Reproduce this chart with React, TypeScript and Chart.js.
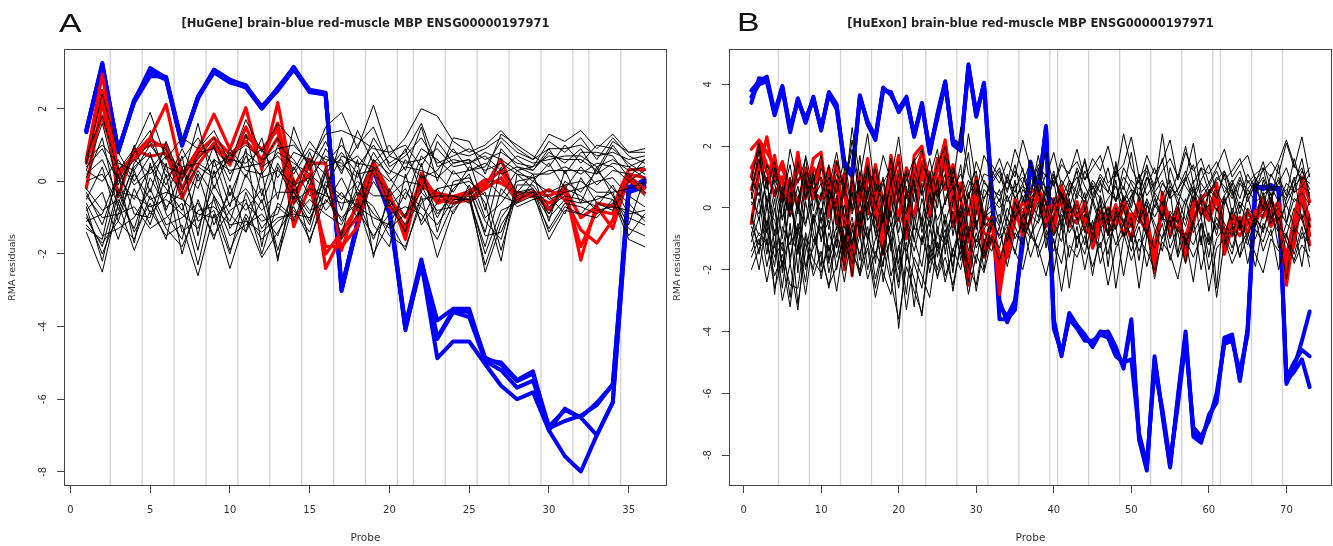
import React, { useEffect, useRef } from "react";
import { Chart, registerables } from "chart.js";

Chart.register(...registerables);

const FONT = "'DejaVu Sans', 'Liberation Sans', sans-serif";

// ---------------- Panel A (HuGene, 36 probes) ----------------
const titleA = "[HuGene] brain-blue red-muscle MBP ENSG00000197971";
const xTicksA = [0, 5, 10, 15, 20, 25, 30, 35];
const yTicksA = [-8, -6, -4, -2, 0, 2];
const exonBoundsA = [2.5, 4.5, 6.5, 8.5, 10.5, 12.5, 14.5, 16.5, 18.5, 20.5, 21.5, 23.5, 25.5, 27.5, 29.5, 31.5, 32.5, 34.5];

const blueA1 = [1.40, 3.26, 0.85, 2.20, 3.12, 2.85, 1.00, 2.30, 3.08, 2.80, 2.62, 2.05, 2.55, 3.15, 2.50, 2.42, -3.02, -1.20, 0.35, -0.80, -4.10, -2.20, -3.83, -3.51, -3.51, -4.92, -4.99, -5.47, -5.23, -6.86, -6.26, -6.51, -6.99, -6.09, -0.25, -0.05];
const blueA2 = [1.35, 3.20, 0.80, 2.25, 3.00, 2.80, 0.98, 2.35, 3.02, 2.75, 2.58, 2.00, 2.52, 3.10, 2.45, 2.40, -2.95, -1.15, 0.40, -0.70, -4.05, -2.30, -4.34, -3.60, -3.74, -4.95, -5.20, -5.68, -5.49, -6.80, -6.60, -6.45, -6.16, -5.59, -0.20, 0.05];
const blueA3 = [1.42, 3.22, 0.86, 2.18, 2.90, 2.88, 1.05, 2.28, 3.05, 2.78, 2.65, 2.02, 2.58, 3.12, 2.48, 2.38, -3.00, -1.10, 0.30, -0.90, -4.00, -2.25, -4.87, -4.41, -4.41, -5.03, -5.63, -6.00, -5.81, -6.86, -7.57, -7.99, -6.99, -6.09, -0.30, -0.15];
const blueA4 = [1.38, 3.18, 0.82, 2.22, 3.05, 2.82, 1.02, 2.32, 3.00, 2.72, 2.60, 2.06, 2.50, 3.08, 2.52, 2.44, -2.90, -1.25, 0.38, -0.75, -3.95, -2.15, -4.30, -3.55, -3.60, -4.85, -5.05, -5.50, -5.30, -6.75, -6.30, -6.50, -6.10, -5.60, -0.15, 0.00];

const redA1 = [0.60, 2.95, 0.23, 0.74, 1.20, 2.12, 0.18, 0.88, 1.85, 0.88, 2.03, 0.32, 2.17, -0.14, 0.60, -2.40, -1.50, -1.00, 0.55, -0.32, -1.60, 0.23, -0.50, -0.60, -0.50, -0.14, 0.60, -0.50, -0.28, -0.78, -0.14, -2.17, -0.60, -0.69, 0.32, 0.32];
const redA2 = [0.50, 2.50, -0.42, 0.88, 0.69, 0.78, -0.46, 0.46, 1.06, 0.60, 1.25, 0.88, 1.43, -1.25, -0.14, -1.80, -1.80, -1.25, 0.32, -0.69, -1.25, -0.14, -0.32, -0.42, -0.28, 0.05, -0.05, -0.32, -0.42, -0.23, -0.50, -1.34, -1.70, -1.06, 0.05, -0.32];
const redA3 = [-0.18, 2.17, 0.10, 0.80, 1.00, 1.00, -0.20, 0.70, 0.95, 0.45, 1.50, 0.50, 1.20, -0.60, 0.50, 0.50, -1.90, -0.50, 0.45, -0.40, -1.40, 0.10, -0.40, -0.50, -0.35, -0.05, 0.30, -0.45, -0.35, -0.60, -0.30, -1.80, -0.80, -0.90, 0.20, 0.10];
const redA4 = [0.55, 1.80, 0.30, 0.60, 1.15, 0.90, 0.10, 0.80, 1.20, 0.75, 1.10, 0.60, 1.60, -0.30, 0.20, -2.00, -1.40, -0.70, 0.40, -0.50, -1.00, 0.00, -0.60, -0.45, -0.55, -0.20, 0.10, -0.55, -0.30, -0.40, -0.20, -1.00, -0.70, -1.30, 0.15, -0.20];

const blackA1 = [-0.3, -1.2, 0.1, -0.5, 0.4, -0.2, -0.8, 0.3, -0.4, -1.1, 0.2, -0.6, 0.5, -0.3, -0.9, 0.4, 0.6, -0.2, 0.8, 0.1, -0.5, 0.7, 0.2, -0.3, 0.4, 0.1, -0.4, 0.3, 0.0, 0.5, -0.2, 0.4, -0.1, 0.3, 0.2, -0.3];
const blackA2 = [-1.4, -2.5, -0.6, -1.9, -0.8, -1.5, -1.2, -2.6, -0.9, -2.4, -1.0, -2.1, -1.4, -0.7, -1.6, -0.5, -1.0, -0.6, -2.0, -1.1, -1.9, -0.4, -2.1, -0.8, -0.3, -2.5, -1.2, -0.5, -0.3, -1.6, -0.8, -0.9, -1.0, -0.5, -1.6, -1.8];
const blackA3 = [0.7, 1.8, 0.3, 0.9, 1.9, 0.6, 1.2, 0.9, 1.4, 0.5, 1.7, 0.8, 1.6, 1.1, 0.4, 1.5, 1.9, 0.9, 2.1, 0.7, 1.2, 2.0, 1.8, 1.1, 0.8, 1.0, 1.4, 0.9, 0.6, 1.3, 1.1, 1.4, 0.9, 1.3, 0.8, 0.9];
const blackA4 = [-0.8, -0.3, -1.6, -0.2, -1.2, 0.2, -2.0, -0.5, -1.6, -0.1, -1.4, 0.3, -2.2, 0.1, -1.7, -0.2, -1.5, 0.3, -1.2, -1.8, 0.2, -1.2, -0.6, 0.3, -0.2, -1.4, 0.4, -0.3, 0.2, -1.1, 0.3, -0.6, 0.4, -0.4, -1.2, 0.1];
const blackA5 = [0.2, 0.6, -0.4, 1.0, -0.3, 1.1, 0.0, 1.6, -0.2, 0.8, 0.1, 1.2, -0.5, 1.5, 0.3, 1.1, 0.2, 1.4, 0.5, 1.0, 0.3, 1.5, 0.0, 1.2, 1.1, 0.2, 1.3, 1.0, 0.7, 0.4, 1.0, 0.5, 1.0, 0.9, 0.5, 0.2];
const blackA6 = [-1.0, -1.8, -0.2, -1.4, -0.6, -1.6, 0.4, -1.1, -0.8, -2.0, -0.3, -1.3, -0.7, -1.1, 0.1, -0.8, -0.3, -1.0, 0.4, -0.6, -1.4, 0.2, -0.9, -0.4, -0.5, -1.8, -0.2, -0.7, -0.5, -0.4, -0.9, 0.1, -0.6, -0.8, 0.0, -0.4];
const blackA7 = [-0.5, 0.4, -1.1, 0.3, -0.9, -0.4, 0.7, -1.5, 0.6, -0.7, 0.9, -1.8, 0.4, -0.5, 0.8, -0.3, 1.2, -0.4, 0.6, 0.2, 0.9, -0.3, 1.1, 0.5, 0.6, -0.8, 0.9, 0.4, 0.3, 0.8, 0.5, 0.9, 0.2, 1.0, 0.4, 0.6];
const blackA8 = [-1.1, -0.9, 0.2, -1.7, 0.5, -0.9, -1.6, 0.2, -1.2, -0.3, -0.8, -0.2, -1.9, -0.4, -1.2, 0.3, -0.8, 0.6, -2.1, -0.2, -1.0, 0.5, -1.4, 0.0, 0.1, -0.6, -2.2, 0.2, -0.2, -0.9, 0.0, -0.3, 0.3, -0.2, -0.6, -1.1];
const blackA9 = [0.1, 1.2, -0.8, 0.5, 1.1, 0.3, -0.3, 0.8, 0.9, 0.0, 1.3, -0.4, 1.0, 0.6, -0.1, 0.9, 0.3, 1.0, 1.5, 0.4, 0.7, 1.2, 0.5, 0.7, 0.9, 0.6, 0.8, 0.5, 0.4, 1.1, 0.8, 1.2, 0.6, 1.2, 0.7, 0.5];
const blackA10 = [-0.9, -2.0, -0.9, -0.7, -1.3, -1.0, -0.6, -2.3, -0.4, -1.5, -1.2, -0.9, -1.5, -0.2, -0.8, -0.6, 0.1, -0.8, -1.5, -0.9, -0.7, -0.9, -1.6, -0.6, -0.4, -2.0, -0.8, -0.6, -0.4, -1.3, -0.6, -0.7, -0.9, -0.6, -1.3, -1.5];
const blackA11 = [0.4, 0.9, 0.0, 0.6, 0.2, 0.7, 0.4, 0.5, 0.2, 0.6, 0.5, 0.9, 0.1, 0.8, 0.6, 0.2, 0.8, 0.2, 0.3, 0.7, 0.5, 0.6, 0.9, 0.4, 0.5, 0.7, 0.3, 0.7, 0.5, 0.6, 0.7, 0.7, 0.4, 0.6, 0.3, 0.4];
const blackA12 = [-0.6, -1.5, -1.3, -1.0, -0.2, -1.2, -1.0, -0.6, -1.5, -0.8, -0.5, -2.0, -0.6, -1.0, -0.5, -0.9, -1.2, -0.3, -0.7, -1.5, -1.8, -0.6, -0.2, -0.9, -0.1, -1.1, -1.6, -0.1, -0.1, -0.7, -0.4, -0.5, -0.7, -0.1, -0.9, -0.8];
const blackA13 = [0.5, 2.4, 0.8, 0.0, 0.7, -0.1, 0.9, 0.0, 0.6, 0.3, 0.4, 0.5, 1.2, 0.3, 1.1, 0.5, 1.0, 0.4, 1.0, 0.3, 0.1, 0.9, 0.6, 0.2, 0.3, 0.4, 1.1, 0.6, 0.3, 0.9, 0.2, 0.8, 0.8, 0.7, 0.1, 0.6];
const blackA14 = [-0.2, -0.8, -0.5, -1.3, 0.1, -0.7, -0.3, -1.9, 0.3, -1.3, -0.6, -1.1, -0.9, 0.4, -0.4, -0.1, -0.5, 0.0, -0.4, -0.4, 0.0, -0.1, -1.0, -0.2, 0.2, -1.0, -0.6, 0.0, 0.1, -0.5, -0.3, -0.2, 0.0, 0.1, -0.4, -0.7];
const blackA15 = [-1.3, -1.6, 0.4, -0.9, -1.0, 0.5, -1.4, -1.0, -0.5, -1.9, -0.9, -1.6, -1.1, -0.8, -1.4, 0.0, -0.4, -0.7, -1.0, -1.2, -0.3, -0.7, -1.2, -0.5, -0.5, -2.3, -1.0, -0.4, -0.2, -1.4, -0.7, -0.9, -0.4, -0.5, -1.0, -1.2];
const blackA16 = [0.3, 1.6, -0.1, 0.8, 1.4, 0.1, 0.6, 1.2, 0.4, 0.7, 1.0, 0.6, 0.9, 1.0, 0.5, 1.3, 1.4, 1.2, 0.9, 0.8, 1.0, 0.4, 1.3, 0.8, 0.7, 0.9, 1.2, 0.8, 0.6, 0.9, 0.9, 1.0, 0.7, 0.8, 0.6, 0.7];
const blackA17 = [-0.7, -2.2, -0.3, -0.4, -0.7, -0.5, -0.9, -1.3, -0.1, -0.9, -1.4, -0.5, -2.1, -0.6, -0.2, -0.4, -0.6, -0.5, -1.6, -0.5, -1.2, -0.5, -0.4, -0.4, -0.6, -0.3, -1.9, -0.3, -0.3, -1.0, -0.5, -0.6, -0.5, -0.3, -1.5, -0.9];
const blackA18 = [0.0, 0.2, -0.6, 0.4, 0.8, -0.8, 0.3, -0.2, 1.0, -0.4, 0.7, 0.1, 0.3, -0.1, 0.1, 0.7, 0.4, 0.7, 0.2, -0.3, 0.6, 0.1, 0.3, 0.9, 0.3, 0.5, 0.2, 0.4, 0.2, 0.2, 0.4, 0.2, 0.5, 0.4, 0.0, 0.3];
const blackA19 = [-0.4, -1.0, -0.9, 0.2, -0.5, -0.3, -0.5, -0.9, -1.0, -0.6, -0.2, -0.8, -0.3, -0.3, -1.1, 0.2, -1.6, -0.9, 0.0, -0.7, -0.2, -1.1, -0.2, -0.1, 0.0, -0.4, -0.4, -0.6, 0.0, -0.3, -0.1, 0.0, -0.3, -0.3, -0.2, 0.0];
const blackA20 = [0.6, 1.0, 0.5, 0.3, 1.0, 0.4, 0.2, 0.6, 1.2, 0.2, 0.8, 0.4, 0.7, 0.2, 0.9, 0.6, 0.5, 0.1, 1.2, 0.5, 0.8, 1.6, 0.4, 0.6, 0.5, 0.8, 0.6, 0.3, 0.4, 0.7, 0.6, 0.6, 0.3, 1.1, 0.8, 0.8];
const blackA21 = [-1.2, -1.7, -1.1, -1.6, -0.4, -1.3, -1.8, -0.8, -0.7, -1.2, -1.1, -1.4, -1.0, -0.9, -1.0, -0.3, -1.1, -0.2, -0.9, -1.3, -0.9, -0.3, -0.8, -0.7, -0.2, -1.5, -1.4, -0.3, -0.2, -0.9, -0.2, -0.4, -0.8, -0.7, -0.8, -1.0];
const blackA22 = [0.3, 0.0, 0.6, -0.1, 0.3, 0.9, -0.2, 0.4, 0.1, 0.9, 0.3, 0.2, 0.8, 0.5, 0.2, -0.2, 0.7, 0.5, 0.4, 0.0, 0.4, 0.3, 0.1, 0.5, 0.6, 0.3, 0.5, 0.2, 0.1, 0.3, 0.3, 0.3, 0.2, 0.5, 0.4, 0.1];

// ---------------- Panel B (HuExon, 73 probes) ----------------
const titleB = "[HuExon] brain-blue red-muscle MBP ENSG00000197971";
const xTicksB = [0, 10, 20, 30, 40, 50, 60, 70];
const yTicksB = [-8, -6, -4, -2, 0, 2, 4];
const exonBoundsB = [4.5, 8.5, 12.5, 16.5, 20.5, 23.5, 27.5, 31.5, 35.5, 39.5, 40.5, 44.5, 48.5, 52.5, 56.5, 60.5, 61.5, 65.5, 69.5];

const blueB1 = [3.4, 4.2, 4.15, 3.05, 3.95, 2.5, 3.5, 2.8, 3.55, 2.55, 3.7, 3.3, 1.35, 1.05, 3.6, 2.75, 2.2, 3.85, 3.7, 3.15, 3.55, 2.3, 3.35, 1.8, 3.0, 4.05, 2.1, 1.9, 4.65, 3.0, 4.0, 0.5, -3.0, -3.7, -3.1, -1.0, 1.45, 0.5, 2.6, -3.7, -4.75, -3.5, -3.85, -4.2, -4.4, -4.0, -4.05, -4.6, -5.1, -3.6, -7.4, -8.45, -4.9, -6.6, -8.35, -6.2, -4.1, -7.3, -7.55, -6.8, -6.2, -4.3, -4.2, -5.55, -3.95, 0.7, 0.65, 0.7, 0.6, -5.7, -5.15, -4.3, -3.35];
const blueB2 = [3.8, 4.1, 4.25, 3.1, 3.9, 2.6, 3.45, 2.9, 3.5, 2.6, 3.65, 3.2, 1.5, 1.1, 3.55, 2.8, 2.3, 3.8, 3.75, 3.1, 3.5, 2.4, 3.3, 1.9, 2.9, 4.0, 2.2, 2.0, 4.55, 3.1, 3.9, 0.4, -3.6, -3.6, -3.3, -0.8, 1.3, 0.6, 2.5, -3.9, -4.7, -3.6, -3.9, -4.3, -4.3, -4.1, -4.2, -4.8, -5.0, -4.9, -7.3, -8.3, -5.2, -6.5, -8.2, -6.4, -4.3, -7.1, -7.4, -6.9, -6.0, -4.4, -4.3, -5.3, -4.1, 0.6, 0.7, 0.6, 0.65, -5.6, -5.3, -4.9, -5.8];
const blueB3 = [3.6, 4.0, 4.1, 3.0, 3.85, 2.45, 3.55, 2.75, 3.6, 2.5, 3.75, 3.35, 1.4, 1.0, 3.65, 2.7, 2.25, 3.9, 3.65, 3.2, 3.6, 2.35, 3.4, 1.75, 3.05, 4.1, 2.05, 1.85, 4.6, 2.95, 4.05, 0.6, -3.2, -3.5, -3.0, -1.2, 1.5, 0.4, 2.65, -3.6, -4.8, -3.4, -3.8, -4.1, -4.5, -4.05, -4.0, -4.5, -5.2, -3.7, -7.5, -8.5, -4.8, -6.7, -8.4, -6.1, -4.0, -7.4, -7.6, -6.7, -6.3, -4.2, -4.1, -5.6, -3.9, 0.75, 0.6, 0.75, 0.55, -5.5, -5.0, -4.6, -4.8];

const redB1 = [1.9, 2.2, 1.8, 1.35, 0.8, 0.2, 1.8, 0.3, 1.6, 1.8, -0.3, 0.9, -2.0, 1.0, -0.9, 1.2, 0.4, -1.5, 0.6, 1.7, -0.8, 1.7, 2.0, 0.5, 1.2, 2.2, 0.4, -1.0, -2.5, 0.7, -1.35,
  -0.3, -2.8, -1.2, 0.3, -0.4, 0.5, 0.7, -0.3, -0.3, 0.7, 0.0, -0.3, 0.0, -1.1, -0.4, -0.2, -0.6, 0.0, -0.6, 0.0, -0.4, -2.1, 0.5, -0.6, 0.0, -1.7, 0.0, 0.3, 0.5, 0.8, -1.5, -0.6, -0.9, -0.5, -0.2, 0.3, -0.3, 0.0, -2.5, -0.8, 1.0, 0.2];
const redB2 = [-0.5, 1.2, 2.3, 0.9, 1.5, 0.6, 1.2, 0.9, 0.3, 1.4, 0.7, 0.5, 1.1, -1.7, 0.6, -0.2, 1.4, 0.2, 1.1, -0.4, 1.3, 0.6, 1.5, -0.3, 0.9, 1.4, -0.6, 0.8, -0.2, 1.0, -0.5,
  -0.6, -1.5, -1.6, -0.4, 0.2, -0.2, 0.4, -0.6, 0.3, 0.1, -0.6, 0.2, -0.7, -0.9, -0.1, -0.5, 0.1, -0.9, -0.2, -0.3, -0.8, -1.2, -0.1, -0.3, -0.7, -0.9, -0.2, 0.0, -0.4, 0.3, -1.0, -0.2, -0.6, -0.1, -0.5, 0.1, -0.6, -0.2, -1.9, -1.2, 0.4, -1.2];
const redB3 = [1.3, 1.8, 1.2, 0.4, 1.0, -0.2, 1.4, 0.6, 1.3, 0.9, 0.2, 1.5, -0.6, 0.4, 0.2, 1.6, -0.3, -0.8, 1.7, 0.3, -0.4, 1.0, 1.8, 0.9, 0.4, 1.7, 0.9, -0.4, -1.8, 0.1, -0.8,
  -1.0, -2.0, -0.8, -0.2, -0.6, 0.2, 0.3, -0.1, -0.5, 0.4, -0.3, -0.5, 0.2, -1.3, -0.6, 0.0, -0.4, 0.3, -0.5, 0.2, -0.6, -1.6, 0.2, -0.3, -0.4, -1.3, 0.3, -0.2, 0.0, 0.6, -1.2, -0.3, -0.7, -0.2, -0.4, 0.0, -0.1, 0.2, -2.2, -0.5, 0.6, -0.6];
const redB4 = [0.6, 1.5, 0.8, 1.7, 0.2, 0.9, 0.0, 1.3, 0.5, 0.3, 1.3, -0.5, 0.7, -2.2, 1.1, 0.5, 1.0, -1.3, 0.2, 1.2, 0.5, -0.3, 1.2, 0.2, 1.6, 0.6, 1.4, 0.3, -1.1, 0.9, -1.6,
  -0.9, -2.3, -1.4, 0.0, -0.9, -0.4, 0.6, 0.2, -0.8, 0.5, -0.4, 0.1, -0.5, -0.7, -0.3, -0.8, -0.3, -0.4, -1.0, 0.3, -0.2, -1.9, 0.4, -0.9, -0.2, -1.4, -0.5, 0.4, -0.3, 0.7, -0.8, -0.9, -0.3, -0.8, -0.1, -0.3, 0.3, -0.4, -1.6, -0.3, 0.8, -0.9];
const redB5 = [1.0, 2.1, 1.4, 1.1, 1.3, 0.5, 0.9, 1.1, 0.8, 1.5, 0.5, 0.2, -1.3, 0.8, -0.4, 0.9, 0.7, -0.6, 1.3, 0.8, -1.0, 1.3, 0.9, 1.1, 0.6, 1.9, 0.2, -0.7, -2.2, 0.5, -0.2,
  -0.5, -1.8, -1.0, 0.1, -0.2, 0.3, 0.5, -0.4, 0.0, 0.5, -0.1, -0.2, -0.3, -1.0, -0.2, -0.4, -0.1, 0.1, -0.4, -0.1, -0.5, -1.4, 0.0, -0.5, -0.3, -1.1, 0.1, 0.2, -0.1, 0.5, -1.3, -0.5, -0.5, -0.4, -0.3, 0.2, -0.2, -0.1, -2.0, -1.0, 0.5, -0.4];

const blackB1 = [-0.5, 0.8, -1.2, 0.3, -2.1, 0.5, -1.4, 0.9, -0.8, -1.9, 0.6, -0.3, -1.6, 1.2, -0.7, 0.4, -1.8, 0.2, -0.9, -2.4, 0.7, -1.1, 0.3, -0.6, 1.0, -1.5, 0.2, 1.4, -0.8, -0.2, 0.9,
  0.4, -0.5, 1.1, 0.3, 0.8, -0.2, 1.3, 0.1, 0.9, -0.7, 0.5, 1.2, -0.1, 0.7, 0.3, -0.9, 1.5, 0.2, 0.6, -0.4, 1.0, 0.4, -0.3, 1.3, 0.5, 0.1, 0.9, -1.2, 0.6, 0.3, 1.1, -0.2, 0.8, 0.4, -0.6, 0.9, 0.2, 1.4, -0.5, 0.7, 1.6, 0.3];
const blackB2 = [-1.6, -1.0, -2.4, -1.1, -3.0, -1.8, -3.3, -0.9, -2.2, -1.4, -2.6, -0.8, -1.9, -0.5, -2.2, -1.3, -2.9, -1.7, -1.0, -3.9, -1.5, -2.3, -3.5, -1.2, -2.0, -0.9, -2.7, -1.1, -1.9, -2.5, -1.0,
  -1.4, -0.6, -1.9, -0.8, -1.2, -0.3, -1.6, -0.9, -2.1, -0.5, -2.6, -0.9, -1.5, -0.4, -1.8, -1.0, -0.6, -2.2, -0.8, -2.6, -0.9, -1.3, -0.5, -1.7, -0.7, -1.1, -0.4, -2.0, -0.8, -2.9, -1.1, -0.6, -1.6, -0.9, -0.3, -1.4, -0.7, -2.0, -0.9, -1.5, -0.6, -1.9];
const blackB3 = [0.9, 2.1, 0.6, 1.5, 0.2, 1.9, 0.8, 1.6, -0.1, 1.3, 0.7, 1.8, 0.4, 2.6, 1.0, 2.4, 0.5, 1.7, 0.9, 2.3, 0.3, 1.5, 1.9, 0.6, 1.4, 2.0, 0.8, 2.6, 1.1, 0.5, 1.7,
  1.2, 0.8, 1.5, 1.0, 2.2, 1.3, 0.9, 1.8, 0.7, 1.4, 1.1, 1.9, 0.9, 1.6, 1.2, 2.0, 1.0, 2.4, 1.3, 0.8, 1.7, 1.1, 1.5, 2.2, 0.9, 1.8, 1.2, 1.6, 0.8, 1.3, 1.9, 1.0, 1.4, 1.7, 0.9, 1.2, 1.5, 1.1, 2.1, 1.3, 2.3, 1.0];
const blackB4 = [-0.2, -1.5, 0.4, -2.8, -0.6, -1.2, 0.3, -2.0, -0.4, 0.5, -1.7, -0.9, 0.1, -1.3, -2.2, 0.2, -0.8, -1.9, 0.4, -1.0, -2.8, -0.3, -1.2, 0.5, -1.6, -0.4, -2.1, 0.1, -0.9, -1.8, -0.2,
  0.1, 0.6, -0.4, 0.9, -0.8, 0.3, 0.7, -1.3, 0.2, -0.5, 0.8, -0.2, 0.5, -1.1, 0.4, -0.3, 0.9, -0.6, 0.2, 1.1, -0.9, 0.3, -0.4, 0.6, -1.5, 0.1, 0.7, -0.3, 0.5, -2.6, 0.2, 0.6, -0.7, 0.4, 0.9, -0.1, 0.5, -0.8, 0.3, 1.0, -0.4, 0.2];
const blackB5 = [0.3, 1.2, -0.8, 0.6, -1.0, 1.0, -2.1, 0.4, 1.1, -0.5, 0.2, -1.3, 1.3, -0.2, 0.8, -1.1, 0.5, 0.9, -1.4, 0.6, 1.2, -0.7, 0.8, -1.6, 0.4, 1.1, -0.9, 0.6, 1.8, -0.6, 0.3,
  0.9, 1.3, 0.5, 1.4, 0.2, 1.0, 0.6, -0.2, 1.1, 0.4, 0.0, 0.8, 1.5, 0.3, 0.9, -0.4, 1.2, 0.6, 1.8, 0.2, 0.7, 1.3, 0.4, 0.9, 0.1, 1.0, 2.1, 0.5, 0.8, 0.3, 1.2, 0.6, -0.2, 0.9, 0.5, 1.3, 0.2, 1.0, 0.4, 1.6, 0.7, 0.5];
const blackB6 = [-1.1, -0.3, -1.9, -0.7, -2.6, -0.5, -3.1, -1.4, -0.2, -2.3, -0.8, -1.6, -0.4, -1.2, -0.1, -2.0, -1.0, -0.3, -2.2, -1.3, -0.6, -1.8, -2.6, -0.7, -1.4, -0.2, -1.6, -0.8, -2.4, -1.0, -1.5,
  -0.6, -0.2, -1.1, 0.2, -0.5, -1.0, 0.1, -0.7, -1.4, 0.0, -0.8, -0.3, -1.2, 0.2, -0.6, -1.5, -0.1, -0.9, -0.3, -1.7, 0.1, -0.5, -1.0, -0.2, -0.8, -1.8, -0.4, 0.2, -1.1, -0.5, -0.9, 0.0, -0.6, -1.2, -0.3, -0.7, 0.1, -1.3, -0.5, -0.8, -0.2, -1.4];
const blackB7 = [0.5, -0.4, 1.0, -1.3, 0.7, -1.8, 0.1, -0.6, 1.2, -1.1, 0.6, 0.0, -1.4, 0.9, -0.5, 1.3, -0.9, 0.4, -0.3, 1.1, -1.7, 0.6, -0.4, 1.2, -0.8, 0.3, 1.0, -1.2, 0.4, 0.9, -0.6,
  0.7, 0.2, 1.0, 0.5, 1.3, 0.0, 0.8, 0.4, 1.2, 0.1, 0.6, 1.0, 0.3, 0.9, 0.5, 1.3, 0.2, 0.7, 0.0, 1.1, 0.4, 0.8, 1.6, 0.3, 0.6, 1.0, 0.2, 0.9, 1.4, 0.5, 0.1, 0.8, 1.2, 0.4, 0.7, 0.0, 1.1, 0.6, 0.3, 0.9, 1.3, 0.4];
const blackB8 = [-0.8, -2.0, -0.4, -1.6, -1.1, -2.9, -0.6, -1.9, -1.3, -0.3, -2.1, -1.0, -2.4, -0.7, -1.5, -0.6, -2.3, -1.2, -0.5, -2.0, -1.1, -3.2, -0.9, -1.8, -0.6, -2.2, -1.4, -0.5, -1.9, -0.8, -1.6,
  -0.9, -1.3, -0.3, -1.0, -0.5, -1.6, -0.8, -0.2, -1.1, -1.8, -0.4, -1.0, -0.6, -2.2, -0.7, -0.3, -1.2, -0.5, -1.4, -0.6, -1.9, -0.8, -0.2, -1.3, -0.6, -1.0, -2.4, -0.5, -1.2, -0.3, -0.9, -1.5, -0.4, -1.8, -0.7, -1.1, -0.3, -0.8, -2.3, -0.6, -1.0, -0.5];
const blackB9 = [0.1, 0.5, -0.6, 1.3, -0.3, 0.2, -0.9, 1.1, -0.5, 0.3, 1.4, -0.7, 0.6, -0.1, 1.7, -0.4, 0.0, 1.0, -0.6, 0.3, -0.2, 0.9, -0.8, 0.1, 0.6, -0.5, 0.4, -0.3, 0.7, 1.2, -0.4,
  1.4, 1.0, 0.6, 1.2, 0.8, 1.5, 0.4, 1.1, 0.7, 1.6, 0.9, 0.3, 1.2, 0.6, 1.0, 0.5, 1.4, 0.2, 0.9, 0.6, 1.2, 0.0, 0.8, 0.4, 1.1, 0.7, 0.3, 1.3, 0.5, 0.9, 1.2, 0.4, 1.0, 0.2, 0.8, 1.5, 0.6, 0.9, 0.1, 0.7, 1.0, 0.8];
const blackB10 = [-1.4, -0.8, -1.1, -2.2, -1.5, -2.5, -2.6, -0.8, -1.7, -2.1, -1.2, -2.7, -1.0, -1.8, -0.9, -2.3, -1.4, -2.1, -2.8, -1.2, -3.3, -1.6, -2.2, -2.9, -1.1, -2.4, -1.3, -2.0, -0.7, -2.7, -1.2,
  -0.3, -1.0, -0.6, -1.5, -0.2, -0.8, -1.3, -0.5, -0.9, -0.2, -1.6, -0.6, -2.0, -0.8, -1.3, -0.4, -2.6, -1.0, -0.5, -1.4, -0.7, -2.3, -0.9, -0.4, -1.6, -0.8, -1.2, -0.5, -2.0, -1.0, -0.6, -1.3, -0.4, -1.0, -1.9, -0.5, -0.9, -0.3, -1.1, -1.7, -0.8, -1.2];
const blackB11 = [0.6, 1.6, 0.2, 0.9, 0.4, 1.4, -0.2, 1.7, 0.6, 1.0, 0.1, 1.5, 0.7, 1.9, 0.3, 1.2, 0.8, 0.2, 1.6, 0.5, 1.1, 0.2, 1.4, 0.9, 0.0, 1.7, 0.6, 1.1, 0.3, 1.5, 0.8,
  0.6, 0.4, 0.9, 0.3, 0.7, 0.5, 1.1, 0.6, 0.2, 0.9, 0.4, 1.3, 0.7, 0.2, 0.8, 0.5, 0.3, 1.0, 0.6, 0.4, 1.4, 0.5, 0.9, 0.3, 0.6, 1.2, 0.5, 0.8, 0.4, 1.0, 0.7, 0.3, 0.9, 0.6, 1.0, 0.4, 0.7, 0.2, 0.8, 0.5, 1.2, 0.6];
const blackB12 = [-0.6, -1.2, 0.0, -0.4, -1.4, 0.1, -1.0, -2.4, -0.2, -1.0, -0.4, -2.0, -0.6, -1.1, 0.2, -0.9, -1.6, -0.2, -1.2, -2.6, -0.5, -1.4, -0.3, -2.1, -0.8, -1.2, -0.4, -1.5, 0.0, -1.3, -0.7,
  -0.2, 0.3, -0.6, -0.1, 0.4, -0.4, 0.2, -0.9, -0.3, 0.5, -0.2, 0.1, -0.8, 0.3, -0.4, 0.0, -0.7, 0.4, -0.1, -0.5, 0.3, -0.3, 0.2, -1.0, 0.0, -0.6, 0.4, -0.2, 0.1, -0.9, 0.3, -0.4, 0.2, -0.1, -0.6, 0.5, -0.3, 0.0, -0.5, 0.3, 0.1, -0.6];
const blackB13 = [-0.9, 0.3, -1.5, 0.0, -1.9, -0.8, -1.5, 0.2, -1.1, -0.6, -1.8, 0.4, -1.2, -0.3, -1.7, 0.6, -0.6, -1.5, -0.1, -1.8, -0.4, -1.0, -1.9, -0.2, -1.3, -0.7, -1.9, -0.1, -1.4, -0.4, -2.0,
  -0.4, -0.9, 0.0, -0.6, -1.2, -0.2, -0.5, 0.2, -0.9, -0.4, 0.3, -1.3, -0.2, -0.6, 0.1, -0.9, -0.3, 0.0, -1.1, -0.4, 0.2, -0.7, -1.4, -0.1, -0.5, 0.3, -0.8, -0.3, -1.6, 0.0, -0.5, -0.9, 0.1, -0.4, -1.0, -0.2, 0.3, -0.6, -0.9, 0.0, -0.4, -1.1];
const blackB14 = [1.0, 0.4, 1.4, 0.8, -0.4, 0.9, 0.3, 1.2, 0.6, -0.2, 1.0, 0.5, 1.6, 0.0, 0.9, 0.4, 1.3, -0.3, 0.8, 1.5, -0.1, 1.1, 0.5, 1.6, 0.3, 0.8, 1.3, 0.2, 0.9, 0.4, 1.1,
  1.0, 1.6, 0.8, 1.9, 1.2, 0.6, 1.4, 1.0, 1.8, 0.7, 1.2, 1.5, 0.9, 1.3, 1.7, 0.8, 1.1, 1.4, 2.3, 1.0, 1.3, 0.7, 1.2, 1.6, 1.0, 2.0, 0.8, 1.3, 1.1, 1.5, 0.9, 1.2, 1.6, 0.8, 1.1, 1.3, 1.0, 1.5, 2.2, 1.4, 0.9, 1.3];
const blackB15 = [-0.3, -0.9, -0.7, -1.9, 0.2, -1.6, -0.5, -1.2, -2.0, 0.0, -1.4, -0.6, -0.9, -2.2, -0.4, -1.0, -0.2, -2.4, -0.8, -0.3, -1.4, -0.6, -1.1, -0.4, -2.3, -0.9, -0.1, -1.7, -0.6, -1.1, -0.3,
  -0.1, -0.6, 0.4, -0.3, 0.0, -0.9, -0.4, 0.5, -0.5, -1.1, 0.2, -0.4, -0.1, -0.7, 0.3, -1.9, 0.0, -0.5, 0.4, -0.2, -0.9, 0.1, -0.3, -0.6, 0.2, -1.2, -0.4, 0.3, -0.2, -0.7, 0.4, -0.5, -1.6, 0.0, -0.3, -0.8, 0.2, -0.4, 0.1, -0.6, -1.9, -0.2];
const blackB16 = [0.2, -0.2, 0.9, -0.9, 0.5, -0.3, 0.7, -0.5, 0.3, 0.8, -0.7, 0.9, -0.3, 0.5, -0.9, 0.7, 0.2, -0.5, 0.9, -0.8, 0.4, 0.8, -0.6, 0.5, -0.4, 0.2, 0.7, -0.6, 0.5, -0.7, 0.6,
  0.3, 0.0, 0.4, -0.4, 0.6, 0.2, -0.3, 0.7, 0.1, 0.4, -0.5, 0.5, 0.2, 0.8, -0.2, 0.3, 0.7, 0.0, 0.4, 0.9, -0.3, 0.5, 0.1, 0.7, 0.3, -0.4, 0.6, 0.2, 0.5, -0.1, 0.4, 0.8, 0.0, 0.6, 0.2, 0.4, -0.5, 0.3, 0.6, 0.2, 0.5, 0.1];
const blackB17 = [-2.0, -1.3, -1.0, -2.6, -1.7, -3.2, -1.2, -2.8, -1.0, -1.6, -2.5, -1.9, -0.9, -1.5, -2.0, -1.1, -2.6, -1.3, -2.4, -3.6, -1.9, -2.7, -3.4, -1.5, -2.2, -1.6, -2.5, -1.2, -2.8, -1.5, -2.1,
  -1.0, -1.7, -0.8, -1.4, -2.0, -0.9, -1.3, -2.2, -1.0, -2.7, -1.2, -1.6, -0.9, -1.9, -1.1, -2.5, -1.3, -0.8, -1.7, -1.0, -1.4, -2.0, -1.1, -1.5, -2.3, -1.0, -1.6, -0.9, -2.7, -1.3, -1.0, -1.8, -1.2, -0.8, -1.5, -2.1, -1.0, -1.4, -0.8, -1.8, -1.2, -1.6];
const blackB18 = [0.4, 1.9, 0.0, 1.1, 0.6, -0.1, 1.5, 0.3, 0.9, 1.7, 0.2, 1.1, 0.6, 2.2, 0.5, 1.4, 0.1, 0.8, 1.3, 0.2, 0.9, 1.6, 0.4, 1.0, 1.9, 0.1, 1.2, 0.5, 2.4, 0.8, 0.3,
  0.8, 1.2, 0.2, 0.7, 1.0, 0.4, 1.7, 0.5, 1.0, 0.3, 0.9, 0.5, 1.6, 0.4, 1.1, 0.7, 0.2, 1.3, 0.8, 0.3, 1.0, 0.6, 2.4, 0.7, 0.4, 0.9, 1.4, 0.3, 0.7, 1.2, 0.5, 0.9, 0.3, 1.1, 0.6, 1.0, 0.4, 0.8, 1.3, 0.5, 0.7, 1.1];

// ---------------- helpers ----------------
const TEXT = "#333";
const AXIS = "#444";

function lineDs(values, color, width) {
  return {
    data: values.map((v, i) => ({ x: i + 1, y: v })),
    borderColor: color,
    borderWidth: width,
    pointRadius: 0,
    pointHoverRadius: 0,
    fill: false,
    tension: 0,
    borderJoinStyle: "round",
    borderCapStyle: "round",
  };
}

const panelPlugin = {
  id: "panelDecor",
  beforeDatasetsDraw(chart, _args, opts) {
    const { ctx, chartArea, scales } = chart;
    const x = scales.x;
    ctx.save();
    ctx.strokeStyle = "#d2d2d2";
    ctx.lineWidth = 1.3;
    (opts.bounds || []).forEach((b) => {
      const px = x.getPixelForValue(b);
      ctx.beginPath();
      ctx.moveTo(px, chartArea.top);
      ctx.lineTo(px, chartArea.bottom);
      ctx.stroke();
    });
    ctx.restore();
  },
  afterDatasetsDraw(chart) {
    const { ctx, chartArea } = chart;
    ctx.save();
    ctx.strokeStyle = AXIS;
    ctx.lineWidth = 1;
    const l = Math.round(chartArea.left) + 0.5;
    const t = Math.round(chartArea.top) + 0.5;
    const r = Math.round(chartArea.right) - 0.5;
    const b = Math.round(chartArea.bottom) - 0.5;
    ctx.strokeRect(l, t, r - l, b - t);
    ctx.restore();
  },
};

function makeConfig(p) {
  const datasets = [
    ...p.black.map((v) => lineDs(v, "#000000", 1)),
    ...p.red.map((v) => lineDs(v, "#ff0000", 3.2)),
    ...p.blue.map((v) => lineDs(v, "#0000ff", 4)),
  ];
  return {
    type: "line",
    data: { datasets },
    plugins: [panelPlugin],
    options: {
      animation: false,
      responsive: false,
      maintainAspectRatio: false,
      devicePixelRatio: 1,
      events: [],
      layout: { padding: { left: 0, right: p.padRight, top: 0, bottom: 0 } },
      plugins: {
        legend: { display: false },
        tooltip: { enabled: false },
        panelDecor: { bounds: p.bounds },
        title: {
          display: true,
          text: p.title,
          fullSize: false,
          color: "#222",
          font: { family: FONT, size: 11.5, weight: "bold", lineHeight: 1.2 },
          padding: { top: 17.5, bottom: 17.5 },
        },
      },
      scales: {
        x: {
          type: "linear",
          bounds: "data",
          min: p.xMin,
          max: p.xMax,
          afterBuildTicks: (s) => {
            s.ticks = p.xTicks.map((v) => ({ value: v }));
          },
          afterFit: (s) => {
            s.height = 60;
          },
          grid: { drawOnChartArea: false, drawTicks: true, tickLength: 7, color: AXIS, lineWidth: 1 },
          border: { display: false },
          ticks: {
            autoSkip: false,
            maxRotation: 0,
            minRotation: 0,
            padding: 11,
            color: TEXT,
            font: { family: FONT, size: 10, lineHeight: 1.2 },
            callback: (v) => String(v),
          },
          title: {
            display: true,
            text: "Probe",
            color: TEXT,
            font: { family: FONT, size: 10.5, lineHeight: 1.2 },
            padding: { top: 0, bottom: 1 },
          },
        },
        y: {
          type: "linear",
          bounds: "data",
          min: p.yMin,
          max: p.yMax,
          afterBuildTicks: (s) => {
            s.ticks = p.yTicks.map((v) => ({ value: v }));
          },
          afterFit: (s) => {
            s.width = 64;
          },
          grid: { drawOnChartArea: false, drawTicks: true, tickLength: 7, color: AXIS, lineWidth: 1 },
          border: { display: false },
          ticks: {
            autoSkip: false,
            minRotation: 90,
            maxRotation: 90,
            crossAlign: "center",
            padding: 9,
            color: TEXT,
            font: { family: FONT, size: 10, lineHeight: 1.2 },
            callback: (v) => String(v),
          },
          title: {
            display: true,
            text: "RMA residuals",
            color: TEXT,
            font: { family: FONT, size: 9.5, lineHeight: 1.2 },
            padding: { top: 7, bottom: 0 },
          },
        },
      },
    },
  };
}

const panelA = {
  title: titleA,
  xMin: -0.4,
  xMax: 37.4,
  yMin: -8.39,
  yMax: 3.65,
  xTicks: xTicksA,
  yTicks: yTicksA,
  bounds: exonBoundsA,
  padRight: 23,
  black: [blackA1, blackA2, blackA3, blackA4, blackA5, blackA6, blackA7, blackA8, blackA9, blackA10, blackA11, blackA12, blackA13, blackA14, blackA15, blackA16, blackA17, blackA18, blackA19, blackA20, blackA21, blackA22],
  red: [redA1, redA2, redA3, redA4],
  blue: [blueA1, blueA2, blueA3, blueA4],
};

const panelB = {
  title: titleB,
  xMin: -1.88,
  xMax: 75.88,
  yMin: -9.0,
  yMax: 5.15,
  xTicks: xTicksB,
  yTicks: yTicksB,
  bounds: exonBoundsB,
  padRight: 1,
  black: [blackB1, blackB2, blackB3, blackB4, blackB5, blackB6, blackB7, blackB8, blackB9, blackB10, blackB11, blackB12, blackB13, blackB14, blackB15, blackB16, blackB17, blackB18],
  red: [redB1, redB2, redB3, redB4, redB5],
  blue: [blueB1, blueB2, blueB3],
};

export default function App() {
  const refA = useRef(null);
  const refB = useRef(null);

  useEffect(() => {
    const a = new Chart(refA.current, makeConfig(panelA));
    const b = new Chart(refB.current, makeConfig(panelB));
    return () => {
      a.destroy();
      b.destroy();
    };
  }, []);

  const letter = {
    position: "absolute",
    fontFamily: "'Liberation Sans', Arial, sans-serif",
    fontSize: "26px",
    lineHeight: "26px",
    color: "#111",
    transform: "scaleX(1.3)",
    transformOrigin: "left top",
  };

  return (
    <div style={{ position: "fixed", left: 0, top: 0, width: 1333, height: 546, background: "#fff", overflow: "hidden" }}>
      <canvas ref={refA} width={690} height={546} style={{ position: "absolute", left: 0, top: 0 }} />
      <canvas ref={refB} width={668} height={546} style={{ position: "absolute", left: 665, top: 0 }} />
      <div style={{ ...letter, left: 59, top: 10 }}>A</div>
      <div style={{ ...letter, left: 737, top: 9 }}>B</div>
    </div>
  );
}
